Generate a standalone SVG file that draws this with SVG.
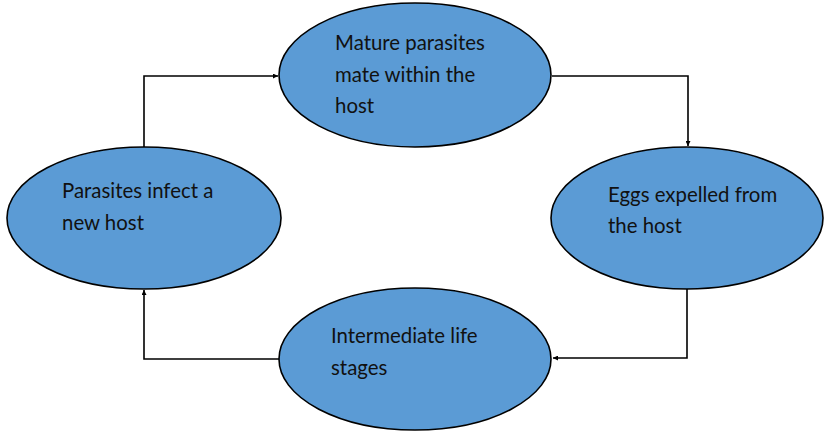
<svg xmlns="http://www.w3.org/2000/svg" width="828" height="431" viewBox="0 0 828 431">
<defs>
<style>
.node{fill:#5B9BD5;stroke:#000;stroke-width:1.6}
.lbl{font-family:Lato,"Open Sans",sans-serif;font-size:20.4px;fill:#111}
.conn{fill:none;stroke:#000;stroke-width:1.6}
</style>
<marker id="ah" viewBox="0 0 10 10" refX="10" refY="5" markerWidth="5" markerHeight="5" markerUnits="userSpaceOnUse" orient="auto">
<path d="M0,0 L10,5 L0,10 z" fill="#000"/>
</marker>
</defs>
<rect width="828" height="431" fill="#fff"/>
<g id="connectors">
<polyline class="conn" points="144,147 144,76 278,76" marker-end="url(#ah)"/>
<polyline class="conn" points="552,76 688,76 688,146" marker-end="url(#ah)"/>
<polyline class="conn" points="687,289 687,358 553,358" marker-end="url(#ah)"/>
<polyline class="conn" points="279,359 144,359 144,290" marker-end="url(#ah)"/>
</g>
<g id="node-mature">
<ellipse class="node" cx="415" cy="75" rx="136" ry="72"/>
<text class="lbl" x="335" y="50">Mature parasites</text>
<text class="lbl" x="335" y="82">mate within the</text>
<text class="lbl" x="335" y="113">host</text>
</g>
<g id="node-infect">
<ellipse class="node" cx="144" cy="218" rx="137" ry="71"/>
<text class="lbl" x="62" y="198">Parasites infect a</text>
<text class="lbl" x="62" y="230">new host</text>
</g>
<g id="node-eggs">
<ellipse class="node" cx="687" cy="218" rx="136" ry="71"/>
<text class="lbl" x="608" y="202">Eggs expelled from</text>
<text class="lbl" x="608" y="233">the host</text>
</g>
<g id="node-intermediate">
<ellipse class="node" cx="415" cy="359" rx="136" ry="71"/>
<text class="lbl" x="331" y="343">Intermediate life</text>
<text class="lbl" x="331" y="375">stages</text>
</g>
</svg>
